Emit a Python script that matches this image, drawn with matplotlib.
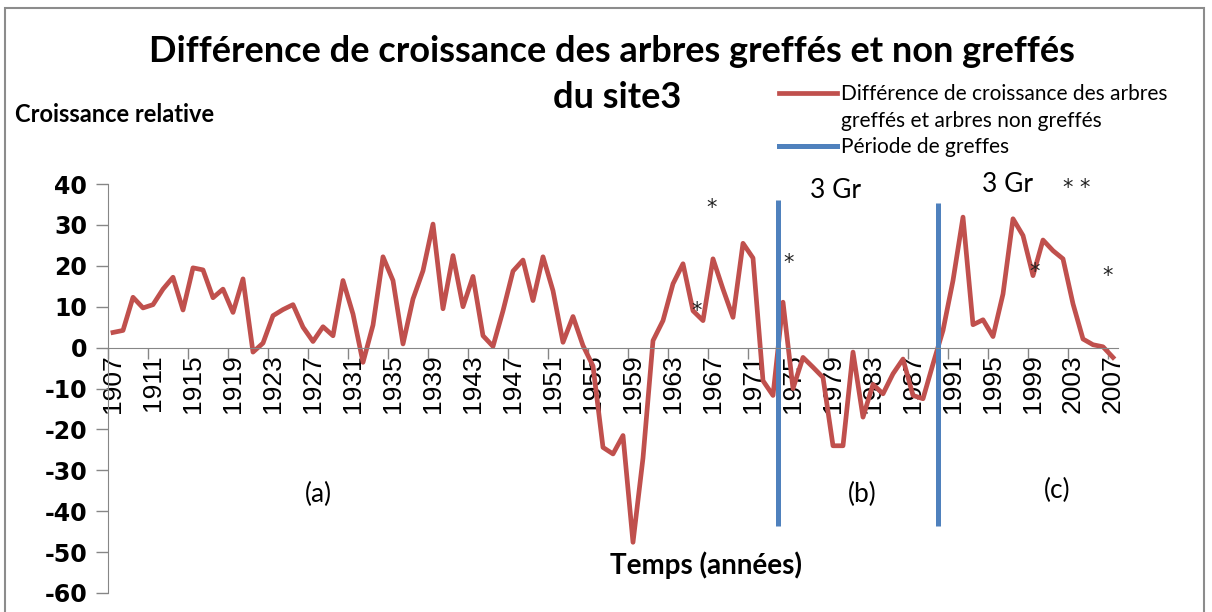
import numpy as np
import matplotlib.pyplot as plt
from matplotlib.lines import Line2D
from matplotlib.patches import Rectangle

# Years and relative growth difference (grafted - non grafted), site 3
years = list(range(1907, 2008))
difference = [
    3.7, 4.2, 12.3, 9.7, 10.5, 14.3, 17.2, 9.2, 19.5, 19.0,      # 1907-1916
    12.2, 14.3, 8.6, 16.8, -1.1, 1.1, 7.8, 9.3, 10.5, 5.0,       # 1917-1926
    1.5, 5.1, 2.9, 16.4, 8.2, -3.6, 5.5, 22.2, 16.4, 0.9,        # 1927-1936
    11.9, 18.8, 30.2, 9.5, 22.5, 10.0, 17.4, 2.9, 0.3, 9.0,      # 1937-1946
    18.7, 21.4, 11.5, 22.2, 13.9, 1.3, 7.6, 0.5, -4.5, -24.4,    # 1947-1956
    -26.0, -21.5, -47.6, -27.0, 1.7, 6.6, 15.6, 20.5, 9.0, 6.6,  # 1957-1966
    21.7, 14.3, 7.4, 25.5, 21.9, -8.1, -11.7, 11.1, -10.0, -2.4, # 1967-1976
    -4.8, -7.3, -24.0, -24.0, -1.1, -17.0, -9.0, -11.3, -6.4, -2.8,  # 1977-1986
    -11.7, -12.5, -4.0, 4.2, 16.4, 31.9, 5.6, 6.8, 2.7, 13.1,    # 1987-1996
    31.5, 27.4, 17.6, 26.3, 23.7, 21.7, 10.7, 2.1, 0.7, 0.2,     # 1997-2006
    -2.4,                                                         # 2007
]

# Grafting periods (vertical markers)
graft_years = [1973.5, 1989.5]
graft_top = [36.0, 35.3]
graft_bottom = [-43.5, -43.5]

# Annotations: (text, year, value)
stars = [("*", 1966.9, 34.2), ("*", 1965.4, 9.0), ("*", 1974.6, 20.8),
         ("* *", 2003.4, 38.9), ("*", 1999.2, 18.6), ("*", 2006.5, 17.4)]
group_labels = [("3 Gr", 1979.2, 38.4), ("3 Gr", 1996.4, 40.0)]
period_labels = [("(a)", 1927.5, -36.0), ("(b)", 1981.9, -36.0), ("(c)", 2001.4, -35.0)]

tick_years = years[::4]

red = "#C0504D"
blue = "#4F81BD"
axis_grey = "#868686"
txt_font = ["Lato", "DejaVu Sans"]

plt.rcParams["axes.unicode_minus"] = False

W, H = 1212, 612
fig = plt.figure(figsize=(W / 100, H / 100), dpi=100)
fig.patches.append(Rectangle((5 / W, -0.1), 1199 / W, 1.1 - 8 / H, transform=fig.transFigure,
                             fill=False, edgecolor="#8c8c8c", linewidth=1.5))

ax = fig.add_axes([108 / W, 19 / H, 1010 / W, 409 / H])
ax.plot(years, difference, color=red, linewidth=3.4, solid_joinstyle="round")
ax.vlines(graft_years, graft_bottom, graft_top, color=blue, linewidth=3.6)

ax.set_xlim(1906.5, 2007.5)
ax.set_ylim(-60, 40)

for side in ["top", "right"]:
    ax.spines[side].set_visible(False)
ax.spines["bottom"].set_position(("data", 0))
ax.spines["bottom"].set_color(axis_grey)
ax.spines["left"].set_color(axis_grey)

ax.set_yticks(range(-60, 41, 10))
ax.tick_params(axis="y", length=9, color=axis_grey, width=1, pad=6)
for lab in ax.get_yticklabels():
    lab.set_fontweight("bold")
    lab.set_fontsize(17)

ax.set_xticks(tick_years)
ax.set_xticklabels([str(y) for y in tick_years], rotation=90, fontsize=19,
                   family="Liberation Sans")
ax.set_xticks([y + 3.5 for y in tick_years[:-1]] + [1906.5], minor=True)
ax.tick_params(axis="x", which="major", length=0, pad=5)
ax.tick_params(axis="x", which="minor", length=8, color=axis_grey, width=1)

for text, x, y in stars:
    ax.text(x, y, text, ha="center", va="center", fontsize=15, color="#222222")
for text, x, y in group_labels:
    ax.text(x, y, text, ha="center", va="center", fontsize=19, family=txt_font)
for text, x, y in period_labels:
    ax.text(x, y, text, ha="center", va="center", fontsize=19, family=txt_font)

fig.text(612 / W, 1 - 52 / H, "Différence de croissance des arbres greffés et non greffés",
         ha="center", va="center", fontsize=26, fontweight="bold", family=txt_font)
fig.text(617 / W, 1 - 98 / H, "du site3", ha="center", va="center",
         fontsize=26, fontweight="bold", family=txt_font)
fig.text(15 / W, 1 - 115 / H, "Croissance relative", ha="left", va="center",
         fontsize=17, fontweight="bold", family=txt_font)
fig.text(706 / W, 1 - 565 / H, "Temps (années)", ha="center", va="center",
         fontsize=20, fontweight="bold", family=txt_font)

handles = [Line2D([], [], color=red, linewidth=3.4),
           Line2D([], [], color="none"),
           Line2D([], [], color=blue, linewidth=3.6)]
labels = ["Différence de croissance des arbres", "greffés et arbres non greffés",
          "Période de greffes"]
fig.legend(handles, labels, loc="upper left", bbox_to_anchor=(769 / W, 1 - 74 / H),
           frameon=False, prop={"family": txt_font, "size": 15},
           handlelength=2.75, handletextpad=0.2, labelspacing=0.3, borderpad=0)

fig.savefig("out.png", dpi=100)
